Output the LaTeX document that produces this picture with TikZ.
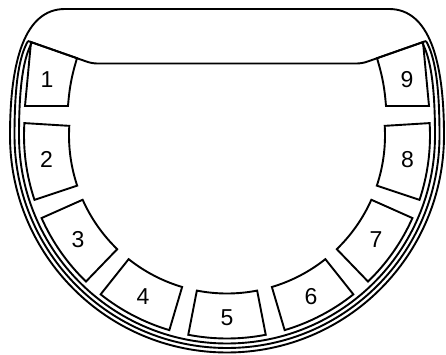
\documentclass[tikz,border=0pt]{standalone}
\usepackage{fontspec}
\setmainfont{Liberation Sans}
\usepackage{tikz}

\begin{document}
\begin{tikzpicture}[x=1pt, y=1pt, line width=1.9pt, every node/.style={font=\fontsize{23}{23}\selectfont}]
        \useasboundingbox (0,0) rectangle (446,355);

        % Outer rim
        \draw (65,346) -- (389,346) .. controls (429,346) and (444,295) .. (444,219.5)
            arc[start angle=0, end angle=-180, radius=217]
            .. controls (10,295) and (25,346) .. (65,346) -- cycle;

        % Rim grooves
        \draw (28,314) .. controls (20,300) and (14.5,275) .. (14.5,219.5)
            arc[start angle=180, end angle=360, radius=212.5]
            .. controls (439.5,275) and (434,300) .. (426,314);
        \draw (32,312.6) .. controls (24,298) and (19,272) .. (19,219.5)
            arc[start angle=180, end angle=360, radius=208]
            .. controls (435,272) and (430,298) .. (422,312.6);

        % Upper edge
        \draw[rounded corners=5pt] (28,314) -- (92,291.5) -- (362,291.5) -- (426,314);

        % Slot 1
        \draw (31,312.9) -- (77,296.8) to[bend right=6] (68,249) -- (25,249) -- cycle;
        \node (slot1) at (47,275) {1};

        % Slot 9
        \draw (423,312.9) -- (377,296.8) to[bend left=6] (386,249) -- (429,249) -- cycle;
        \node (slot9) at (407,275) {9};

        % Slots 2-8 round the bottom
        \begin{scope}[shift={(227,219.5)}]
            \draw (176.5:158) arc[start angle=176.5, end angle=198.5, radius=158] -- (198.5:203) arc[start angle=198.5, end angle=176.5, radius=203] -- cycle;
            \node (slot2) at (187.5:182) {2};

            \draw (204:158) arc[start angle=204, end angle=226, radius=158] -- (226:203) arc[start angle=226, end angle=204, radius=203] -- cycle;
            \node (slot3) at (215:182) {3};

            \draw (231.5:158) arc[start angle=231.5, end angle=253.5, radius=158] -- (253.5:203) arc[start angle=253.5, end angle=231.5, radius=203] -- cycle;
            \node (slot4) at (242.5:182) {4};

            \draw (259:158) arc[start angle=259, end angle=281, radius=158] -- (281:203) arc[start angle=281, end angle=259, radius=203] -- cycle;
            \node (slot5) at (270:182) {5};

            \draw (286.5:158) arc[start angle=286.5, end angle=308.5, radius=158] -- (308.5:203) arc[start angle=308.5, end angle=286.5, radius=203] -- cycle;
            \node (slot6) at (297.5:182) {6};

            \draw (314:158) arc[start angle=314, end angle=336, radius=158] -- (336:203) arc[start angle=336, end angle=314, radius=203] -- cycle;
            \node (slot7) at (325:182) {7};

            \draw (341.5:158) arc[start angle=341.5, end angle=363.5, radius=158] -- (363.5:203) arc[start angle=363.5, end angle=341.5, radius=203] -- cycle;
            \node (slot8) at (352.5:182) {8};
        \end{scope}
    \end{tikzpicture}
\end{document}
